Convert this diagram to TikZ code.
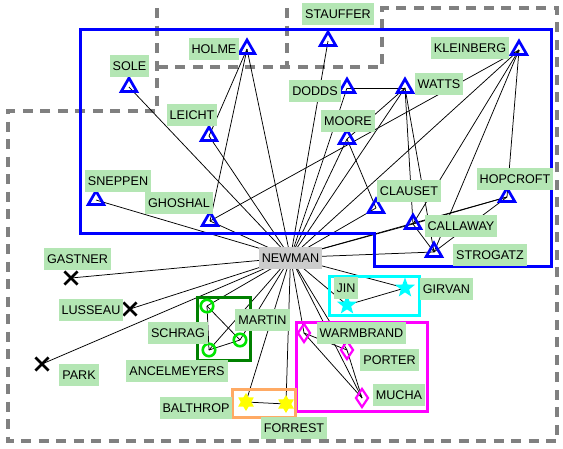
\documentclass[tikz,border=0pt]{standalone}
\usepackage{fontspec}
\setmainfont{Liberation Sans}
\usetikzlibrary{shapes.geometric,shapes.misc}
\definecolor{lblgreen}{RGB}{180,230,180}
\definecolor{nmgray}{RGB}{204,204,204}
\definecolor{dashgray}{RGB}{128,128,128}
\definecolor{cgreen}{RGB}{0,230,0}
\definecolor{dgreen}{RGB}{0,128,0}
\definecolor{orng}{RGB}{255,170,100}
\definecolor{tblue}{RGB}{0,0,255}
\definecolor{tcyan}{RGB}{0,255,255}
\definecolor{tmagenta}{RGB}{255,0,255}
\definecolor{tyellow}{RGB}{255,255,0}
\begin{document}
\begin{tikzpicture}[x=1pt,y=-1pt,
 lbl/.style={fill=lblgreen, inner ysep=0pt, inner xsep=3pt, minimum height=22pt, text height=9.3pt, text depth=0pt, font=\fontsize{12.6}{14}\selectfont},
 hub/.style={lbl, fill=nmgray},
 tri/.style={regular polygon, regular polygon sides=3, draw=tblue, line width=2.7pt, minimum size=18pt, inner sep=0pt},
 xmark/.style={cross out, draw=black, line width=2.7pt, minimum size=10.5pt, inner sep=0pt},
 circ/.style={circle, draw=cgreen, line width=2.6pt, minimum size=12.5pt, inner sep=0pt},
 dia/.style={diamond, draw=tmagenta, line width=2.2pt, minimum width=13pt, minimum height=19pt, inner sep=0pt},
 cstar/.style={star, star points=5, star point ratio=2.4, fill=tcyan, minimum size=21pt, inner sep=0pt},
 ystar/.style={star, star points=6, star point ratio=1.7, fill=tyellow, minimum size=18pt, inner sep=0pt},
 edge/.style={black, line width=0.75pt},
 grp/.style={dashgray, line width=4pt, dash pattern=on 10pt off 7.5pt},
 box/.style={line width=3pt},
]
\useasboundingbox (0,0) rectangle (563,448);
% positions of the markers
\coordinate (newman) at (290.5,257.5);
\coordinate (holme) at (247,49);
\coordinate (sole) at (129,87);
\coordinate (leicht) at (209,136);
\coordinate (sneppen) at (96,200);
\coordinate (ghoshal) at (210,221);
\coordinate (stauffer) at (328,41);
\coordinate (kleinberg) at (519,50);
\coordinate (dodds) at (347,88);
\coordinate (watts) at (405,88);
\coordinate (moore) at (347,139);
\coordinate (clauset) at (376,208);
\coordinate (hopcroft) at (507,197);
\coordinate (callaway) at (413,224);
\coordinate (strogatz) at (434,252);
\coordinate (gastner) at (71,278);
\coordinate (lusseau) at (130,309);
\coordinate (park) at (42,364);
\coordinate (schrag) at (207,306);
\coordinate (ancel) at (209,350);
\coordinate (martin) at (240,340);
\coordinate (balthrop) at (246,402);
\coordinate (forrest) at (286,404);
\coordinate (jin) at (347,305);
\coordinate (girvan) at (405,288);
\coordinate (warmbrand) at (304,333);
\coordinate (porter) at (347,350);
\coordinate (mucha) at (362,398);
% hierarchical groups (dashed)
\draw[grp] (157,8) -- (157,111) -- (8,111) -- (8,441) -- (557,441) -- (557,8) -- (382,8) -- (382,67) -- (157,67);
\draw[grp] (287,8) -- (287,67);
% edges
\foreach \p in {holme,sole,leicht,sneppen,ghoshal,stauffer,kleinberg,dodds,watts,moore,clauset,hopcroft,callaway,strogatz,gastner,lusseau,park,schrag,ancel,martin,balthrop,forrest,jin,girvan,warmbrand,porter,mucha}
  \draw[edge] (newman) -- (\p);
\draw[edge] (holme) -- (leicht);
\draw[edge] (holme) -- (ghoshal);
\draw[edge] (ghoshal) -- (kleinberg);
\draw[edge] (dodds) -- (watts);
\draw[edge] (moore) -- (watts);
\draw[edge] (moore) -- (clauset);
\draw[edge] (watts) -- (callaway);
\draw[edge] (watts) -- (strogatz);
\draw[edge] (kleinberg) -- (hopcroft);
\draw[edge] (kleinberg) -- (callaway);
\draw[edge] (kleinberg) -- (strogatz);
\draw[edge] (hopcroft) -- (strogatz);
\draw[edge] (hopcroft) -- (callaway);
\draw[edge] (callaway) -- (strogatz);
\draw[edge] (jin) -- (girvan);
\draw[edge] (schrag) -- (martin);
\draw[edge] (schrag) -- (ancel);
\draw[edge] (ancel) -- (martin);
\draw[edge] (balthrop) -- (forrest);
\draw[edge] (warmbrand) -- (porter);
\draw[edge] (warmbrand) -- (mucha);
\draw[edge] (porter) -- (mucha);
% community boxes
\draw[box, tblue] (80,29) -- (551,29) -- (551,266) -- (374,266) -- (374,233) -- (80,233) -- cycle;
\draw[box, tcyan] (329,276) rectangle (419,315);
\draw[box, tmagenta] (296,322) rectangle (427,411);
\draw[box, dgreen] (197,297) rectangle (250,360);
\draw[box, orng] (232,389) rectangle (295,417);
% markers
\foreach \p in {holme,sole,leicht,sneppen,ghoshal,stauffer,kleinberg,dodds,watts,moore,clauset,hopcroft,callaway,strogatz}
  \node[tri] (\p-m) at (\p) {};
\foreach \p in {gastner,lusseau,park}
  \node[xmark] (\p-m) at (\p) {};
\foreach \p in {schrag,ancel,martin}
  \node[circ] (\p-m) at (\p) {};
\foreach \p in {balthrop,forrest}
  \node[ystar] (\p-m) at (\p) {};
\foreach \p in {jin,girvan}
  \node[cstar] (\p-m) at (\p) {};
\foreach \p in {warmbrand,porter,mucha}
  \node[dia] (\p-m) at (\p) {};
% labels
\node[hub] (newman-l) at (newman) {NEWMAN};
\node[lbl] (holme-l) at (214,49) {HOLME};
\node[lbl] (sole-l) at (129.5,66) {SOLE};
\node[lbl] (leicht-l) at (192,115) {LEICHT};
\node[lbl] (sneppen-l) at (118,181) {SNEPPEN};
\node[lbl] (ghoshal-l) at (179,203) {GHOSHAL};
\node[lbl] (stauffer-l) at (338,14) {STAUFFER};
\node[lbl] (kleinberg-l) at (470,48) {KLEINBERG};
\node[lbl] (dodds-l) at (315,91) {DODDS};
\node[lbl] (watts-l) at (439,84) {WATTS};
\node[lbl] (moore-l) at (348,121) {MOORE};
\node[lbl] (clauset-l) at (409,190.5) {CLAUSET};
\node[lbl] (hopcroft-l) at (515,179) {HOPCROFT};
\node[lbl] (callaway-l) at (461,226) {CALLAWAY};
\node[lbl] (strogatz-l) at (490,254.5) {STROGATZ};
\node[lbl] (gastner-l) at (77.5,258.5) {GASTNER};
\node[lbl] (lusseau-l) at (91,310) {LUSSEAU};
\node[lbl] (park-l) at (79,374.5) {PARK};
\node[lbl] (schrag-l) at (178,332.5) {SCHRAG};
\node[lbl] (martin-l) at (262.5,320) {MARTIN};
\node[lbl] (ancel-l) at (177,371) {ANCELMEYERS};
\node[lbl] (balthrop-l) at (196,408) {BALTHROP};
\node[lbl] (forrest-l) at (294,427.5) {FORREST};
\node[lbl] (jin-l) at (346,287.5) {JIN};
\node[lbl] (girvan-l) at (446.5,289) {GIRVAN};
\node[lbl] (warmbrand-l) at (361.5,333) {WARMBRAND};
\node[lbl] (porter-l) at (389.5,360) {PORTER};
\node[lbl] (mucha-l) at (399,395) {MUCHA};
\end{tikzpicture}
\end{document}
